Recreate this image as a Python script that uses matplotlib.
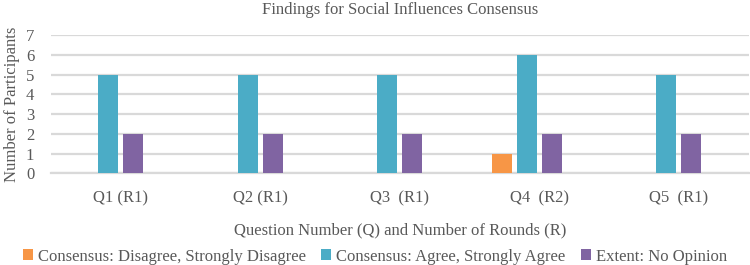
import numpy as np
import matplotlib
matplotlib.use("Agg")
import matplotlib.pyplot as plt

plt.rcParams['font.family'] = ['Liberation Serif', 'DejaVu Serif']

# data
questions = ["Q1 (R1)", "Q2 (R1)", "Q3  (R1)", "Q4  (R2)", "Q5  (R1)"]
disagree = [0, 0, 0, 1, 0]
agree = [5, 5, 5, 6, 5]
no_opinion = [2, 2, 2, 2, 2]
series_names = ["Consensus: Disagree, Strongly Disagree",
                "Consensus: Agree, Strongly Agree",
                "Extent: No Opinion"]
colors = ["#F79646", "#4BACC6", "#8064A2"]

txt = "#595959"
grid = "#D9D9D9"

fig = plt.figure(figsize=(7.5, 2.65), dpi=100)
ax = fig.add_axes([0.068, 0.346, 0.93, 0.522])

x = np.arange(len(questions))
step = 0.179  # slot width (excel cluster has 4 slots, last one empty)
width = 0.143
offsets = [-1.5, -0.5, 0.5]
for vals, name, c, off in zip([disagree, agree, no_opinion], series_names, colors, offsets):
    ax.bar(x + off * step, vals, width, color=c, label=name, zorder=3)

ax.set_xlim(-0.5, len(questions) - 0.5)
ax.set_ylim(0, 7)
ax.set_yticks(range(0, 8))
ax.yaxis.grid(True, color=grid, linewidth=1.6, zorder=0)
ax.set_axisbelow(True)
for s in ["top", "right", "left"]:
    ax.spines[s].set_visible(False)
ax.spines["bottom"].set_color(grid)
ax.spines["bottom"].set_linewidth(1.6)
ax.tick_params(axis="both", length=0, colors=txt, labelsize=12)
ax.tick_params(axis="y", pad=12)
ax.tick_params(axis="x", pad=12)
ax.set_xticks(x)
ax.set_xticklabels(questions)

ax.set_title("Findings for Social Influences Consensus", color=txt, fontsize=12, pad=15)
ax.set_xlabel("Question Number (Q) and Number of Rounds (R)", color=txt, fontsize=12, labelpad=12)
ax.set_ylabel("Number of Participants", color=txt, fontsize=12, labelpad=4)

leg = fig.legend(loc="lower center", bbox_to_anchor=(0.5, -0.055), ncol=3, frameon=False,
                 fontsize=12, handlelength=0.6, handleheight=0.6, handletextpad=0.3,
                 columnspacing=0.9)
for t in leg.get_texts():
    t.set_color(txt)

fig.savefig("out.png", dpi=100)
